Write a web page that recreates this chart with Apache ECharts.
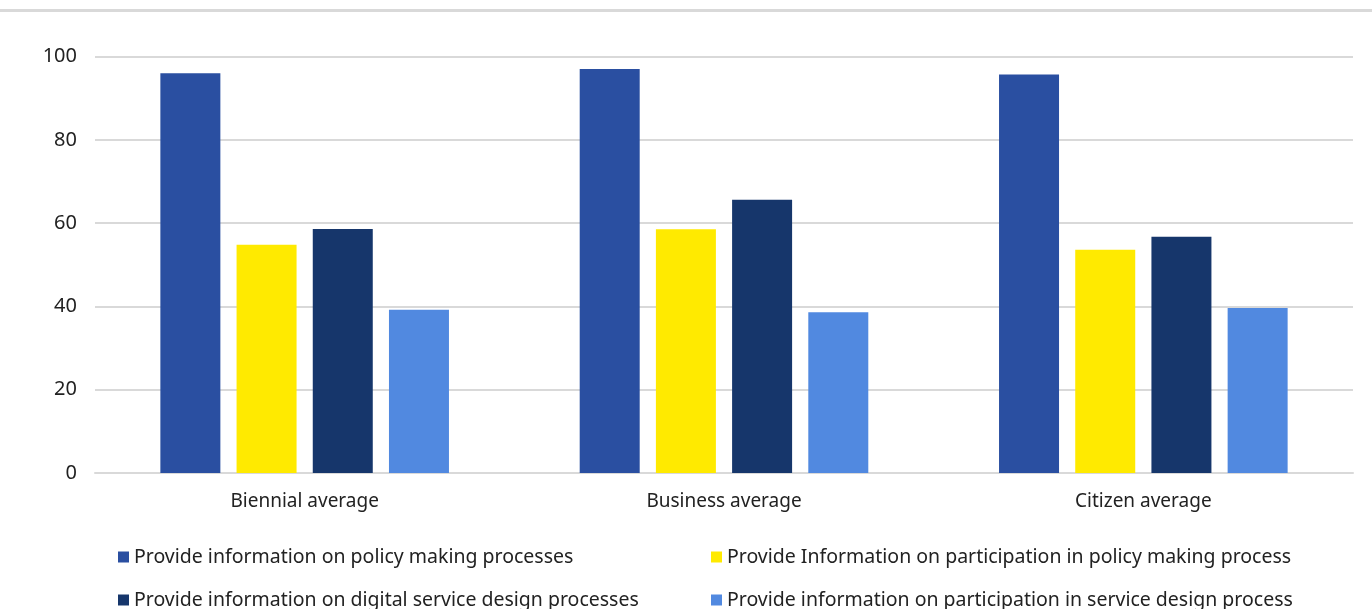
<!DOCTYPE html>
<html>
<head>
<meta charset="utf-8">
<script src="https://cdn.jsdelivr.net/npm/echarts@6/dist/echarts.min.js"></script>
<style>
html,body{margin:0;padding:0;background:#fff;}
#c{width:1372px;height:609px;}
</style>
</head>
<body>
<div id="c"></div>
<script>
var categories = ['Biennial average', 'Business average', 'Citizen average'];
var seriesNames = [
  'Provide information on policy making processes',
  'Provide Information on participation in policy making process',
  'Provide information on digital service design processes',
  'Provide information on participation in service design process'
];
var policyInfo = [96, 97, 95.7];
var participationPolicy = [54.8, 58.5, 53.6];
var digitalService = [58.6, 65.6, 56.7];
var participationService = [39.2, 38.6, 39.6];
var yTicks = [0, 20, 40, 60, 80, 100];

var colors = ['#2a4fa1', '#ffea00', '#16366b', '#5189e0'];
var font = 'Noto Sans';
var values = [policyInfo, participationPolicy, digitalService, participationService];

var chart = echarts.init(document.getElementById('c'), null, {renderer: 'canvas'});
var series = seriesNames.map(function (n, i) {
  return {
    name: n,
    type: 'bar',
    data: values[i],
    barWidth: 60,
    barGap: '27%',
    itemStyle: {color: colors[i]}
  };
});
var legendPos = [[118, 547], [711, 547], [118, 590], [711, 590]];
var legends = seriesNames.map(function (n, i) {
  return {
    orient: 'horizontal',
    left: legendPos[i][0],
    top: legendPos[i][1],
    padding: 0,
    itemWidth: 11,
    itemHeight: 11,
    icon: 'rect',
    textStyle: {color: '#222', fontSize: 19.5, fontFamily: font},
    data: [n]
  };
});
chart.setOption({
  animation: false,
  textStyle: {fontFamily: font},
  graphic: [{
    type: 'rect',
    shape: {x: 0, y: 9, width: 1372, height: 3},
    style: {fill: '#d9d9d9'}
  }],
  grid: {left: 95, right: 19, top: 56.5, bottom: 136, containLabel: false},
  xAxis: {
    type: 'category',
    data: categories,
    axisLine: {show: true, lineStyle: {color: '#d9d9d9', width: 2}},
    axisTick: {show: false},
    axisLabel: {color: '#222', fontSize: 19, fontFamily: font, margin: 19}
  },
  yAxis: {
    type: 'value',
    min: yTicks[0],
    max: yTicks[yTicks.length - 1],
    interval: 20,
    axisLine: {show: false},
    axisTick: {show: false},
    splitLine: {lineStyle: {color: '#d9d9d9', width: 2}},
    axisLabel: {color: '#222', fontSize: 20, fontFamily: font, margin: 18}
  },
  legend: legends,
  series: series
});
</script>
</body>
</html>
